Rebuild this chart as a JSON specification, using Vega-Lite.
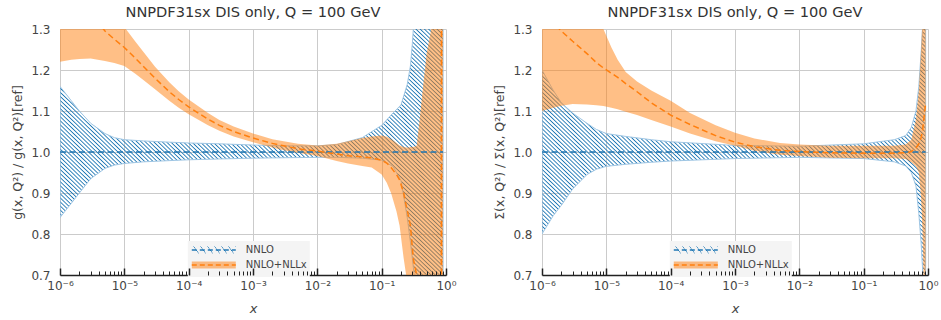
{
"$schema": "https://vega.github.io/schema/vega-lite/v6.json",
"background": "white",
"padding": {"left": 11, "top": 5, "right": 0, "bottom": 0},
"params": [
{"name": "hatchSmall", "value": {"gradient":"linear","x1":0,"y1":0,"x2":1,"y2":-0.159,"stops":[{"offset":0.025,"color":"#1f77b400"},{"offset":0.04,"color":"#1f77b4"},{"offset":0.055,"color":"#1f77b400"},{"offset":0.18,"color":"#1f77b400"},{"offset":0.195,"color":"#1f77b4"},{"offset":0.21,"color":"#1f77b400"},{"offset":0.335,"color":"#1f77b400"},{"offset":0.35,"color":"#1f77b4"},{"offset":0.365,"color":"#1f77b400"},{"offset":0.49,"color":"#1f77b400"},{"offset":0.505,"color":"#1f77b4"},{"offset":0.52,"color":"#1f77b400"},{"offset":0.645,"color":"#1f77b400"},{"offset":0.66,"color":"#1f77b4"},{"offset":0.675,"color":"#1f77b400"},{"offset":0.8,"color":"#1f77b400"},{"offset":0.815,"color":"#1f77b4"},{"offset":0.83,"color":"#1f77b400"},{"offset":0.955,"color":"#1f77b400"},{"offset":0.97,"color":"#1f77b4"},{"offset":0.985,"color":"#1f77b400"}]}},
{"name": "hatch", "value": {"gradient":"linear","x1":0,"y1":1.1,"x2":1.1,"y2":0,"stops":[
{"offset":0.17,"color":"#1f77b400"},{"offset":0.1715,"color":"#1f77b4"},{"offset":0.173,"color":"#1f77b400"},
{"offset":0.175,"color":"#1f77b400"},{"offset":0.1765,"color":"#1f77b4"},{"offset":0.178,"color":"#1f77b400"},
{"offset":0.18,"color":"#1f77b400"},{"offset":0.1815,"color":"#1f77b4"},{"offset":0.183,"color":"#1f77b400"},
{"offset":0.185,"color":"#1f77b400"},{"offset":0.1865,"color":"#1f77b4"},{"offset":0.188,"color":"#1f77b400"},
{"offset":0.19,"color":"#1f77b400"},{"offset":0.1915,"color":"#1f77b4"},{"offset":0.193,"color":"#1f77b400"},
{"offset":0.195,"color":"#1f77b400"},{"offset":0.1965,"color":"#1f77b4"},{"offset":0.198,"color":"#1f77b400"},
{"offset":0.2,"color":"#1f77b400"},{"offset":0.2015,"color":"#1f77b4"},{"offset":0.203,"color":"#1f77b400"},
{"offset":0.205,"color":"#1f77b400"},{"offset":0.2065,"color":"#1f77b4"},{"offset":0.208,"color":"#1f77b400"},
{"offset":0.21,"color":"#1f77b400"},{"offset":0.2115,"color":"#1f77b4"},{"offset":0.213,"color":"#1f77b400"},
{"offset":0.215,"color":"#1f77b400"},{"offset":0.2165,"color":"#1f77b4"},{"offset":0.218,"color":"#1f77b400"},
{"offset":0.22,"color":"#1f77b400"},{"offset":0.2215,"color":"#1f77b4"},{"offset":0.223,"color":"#1f77b400"},
{"offset":0.225,"color":"#1f77b400"},{"offset":0.2265,"color":"#1f77b4"},{"offset":0.228,"color":"#1f77b400"},
{"offset":0.23,"color":"#1f77b400"},{"offset":0.2315,"color":"#1f77b4"},{"offset":0.233,"color":"#1f77b400"},
{"offset":0.235,"color":"#1f77b400"},{"offset":0.2365,"color":"#1f77b4"},{"offset":0.238,"color":"#1f77b400"},
{"offset":0.24,"color":"#1f77b400"},{"offset":0.2415,"color":"#1f77b4"},{"offset":0.243,"color":"#1f77b400"},
{"offset":0.245,"color":"#1f77b400"},{"offset":0.2465,"color":"#1f77b4"},{"offset":0.248,"color":"#1f77b400"},
{"offset":0.25,"color":"#1f77b400"},{"offset":0.2515,"color":"#1f77b4"},{"offset":0.253,"color":"#1f77b400"},
{"offset":0.255,"color":"#1f77b400"},{"offset":0.2565,"color":"#1f77b4"},{"offset":0.258,"color":"#1f77b400"},
{"offset":0.26,"color":"#1f77b400"},{"offset":0.2615,"color":"#1f77b4"},{"offset":0.263,"color":"#1f77b400"},
{"offset":0.265,"color":"#1f77b400"},{"offset":0.2665,"color":"#1f77b4"},{"offset":0.268,"color":"#1f77b400"},
{"offset":0.27,"color":"#1f77b400"},{"offset":0.2715,"color":"#1f77b4"},{"offset":0.273,"color":"#1f77b400"},
{"offset":0.275,"color":"#1f77b400"},{"offset":0.2765,"color":"#1f77b4"},{"offset":0.278,"color":"#1f77b400"},
{"offset":0.28,"color":"#1f77b400"},{"offset":0.2815,"color":"#1f77b4"},{"offset":0.283,"color":"#1f77b400"},
{"offset":0.285,"color":"#1f77b400"},{"offset":0.2865,"color":"#1f77b4"},{"offset":0.288,"color":"#1f77b400"},
{"offset":0.29,"color":"#1f77b400"},{"offset":0.2915,"color":"#1f77b4"},{"offset":0.293,"color":"#1f77b400"},
{"offset":0.295,"color":"#1f77b400"},{"offset":0.2965,"color":"#1f77b4"},{"offset":0.298,"color":"#1f77b400"},
{"offset":0.3,"color":"#1f77b400"},{"offset":0.3015,"color":"#1f77b4"},{"offset":0.303,"color":"#1f77b400"},
{"offset":0.305,"color":"#1f77b400"},{"offset":0.3065,"color":"#1f77b4"},{"offset":0.308,"color":"#1f77b400"},
{"offset":0.31,"color":"#1f77b400"},{"offset":0.3115,"color":"#1f77b4"},{"offset":0.313,"color":"#1f77b400"},
{"offset":0.315,"color":"#1f77b400"},{"offset":0.3165,"color":"#1f77b4"},{"offset":0.318,"color":"#1f77b400"},
{"offset":0.32,"color":"#1f77b400"},{"offset":0.3215,"color":"#1f77b4"},{"offset":0.323,"color":"#1f77b400"},
{"offset":0.325,"color":"#1f77b400"},{"offset":0.3265,"color":"#1f77b4"},{"offset":0.328,"color":"#1f77b400"},
{"offset":0.33,"color":"#1f77b400"},{"offset":0.3315,"color":"#1f77b4"},{"offset":0.333,"color":"#1f77b400"},
{"offset":0.335,"color":"#1f77b400"},{"offset":0.3365,"color":"#1f77b4"},{"offset":0.338,"color":"#1f77b400"},
{"offset":0.34,"color":"#1f77b400"},{"offset":0.3415,"color":"#1f77b4"},{"offset":0.343,"color":"#1f77b400"},
{"offset":0.345,"color":"#1f77b400"},{"offset":0.3465,"color":"#1f77b4"},{"offset":0.348,"color":"#1f77b400"},
{"offset":0.35,"color":"#1f77b400"},{"offset":0.3515,"color":"#1f77b4"},{"offset":0.353,"color":"#1f77b400"},
{"offset":0.355,"color":"#1f77b400"},{"offset":0.3565,"color":"#1f77b4"},{"offset":0.358,"color":"#1f77b400"},
{"offset":0.36,"color":"#1f77b400"},{"offset":0.3615,"color":"#1f77b4"},{"offset":0.363,"color":"#1f77b400"},
{"offset":0.365,"color":"#1f77b400"},{"offset":0.3665,"color":"#1f77b4"},{"offset":0.368,"color":"#1f77b400"},
{"offset":0.37,"color":"#1f77b400"},{"offset":0.3715,"color":"#1f77b4"},{"offset":0.373,"color":"#1f77b400"},
{"offset":0.375,"color":"#1f77b400"},{"offset":0.3765,"color":"#1f77b4"},{"offset":0.378,"color":"#1f77b400"},
{"offset":0.38,"color":"#1f77b400"},{"offset":0.3815,"color":"#1f77b4"},{"offset":0.383,"color":"#1f77b400"},
{"offset":0.385,"color":"#1f77b400"},{"offset":0.3865,"color":"#1f77b4"},{"offset":0.388,"color":"#1f77b400"},
{"offset":0.39,"color":"#1f77b400"},{"offset":0.3915,"color":"#1f77b4"},{"offset":0.393,"color":"#1f77b400"},
{"offset":0.395,"color":"#1f77b400"},{"offset":0.3965,"color":"#1f77b4"},{"offset":0.398,"color":"#1f77b400"},
{"offset":0.4,"color":"#1f77b400"},{"offset":0.4015,"color":"#1f77b4"},{"offset":0.403,"color":"#1f77b400"},
{"offset":0.405,"color":"#1f77b400"},{"offset":0.4065,"color":"#1f77b4"},{"offset":0.408,"color":"#1f77b400"},
{"offset":0.41,"color":"#1f77b400"},{"offset":0.4115,"color":"#1f77b4"},{"offset":0.413,"color":"#1f77b400"},
{"offset":0.415,"color":"#1f77b400"},{"offset":0.4165,"color":"#1f77b4"},{"offset":0.418,"color":"#1f77b400"},
{"offset":0.42,"color":"#1f77b400"},{"offset":0.4215,"color":"#1f77b4"},{"offset":0.423,"color":"#1f77b400"},
{"offset":0.425,"color":"#1f77b400"},{"offset":0.4265,"color":"#1f77b4"},{"offset":0.428,"color":"#1f77b400"},
{"offset":0.43,"color":"#1f77b400"},{"offset":0.4315,"color":"#1f77b4"},{"offset":0.433,"color":"#1f77b400"},
{"offset":0.435,"color":"#1f77b400"},{"offset":0.4365,"color":"#1f77b4"},{"offset":0.438,"color":"#1f77b400"},
{"offset":0.44,"color":"#1f77b400"},{"offset":0.4415,"color":"#1f77b4"},{"offset":0.443,"color":"#1f77b400"},
{"offset":0.445,"color":"#1f77b400"},{"offset":0.4465,"color":"#1f77b4"},{"offset":0.448,"color":"#1f77b400"},
{"offset":0.45,"color":"#1f77b400"},{"offset":0.4515,"color":"#1f77b4"},{"offset":0.453,"color":"#1f77b400"},
{"offset":0.455,"color":"#1f77b400"},{"offset":0.4565,"color":"#1f77b4"},{"offset":0.458,"color":"#1f77b400"},
{"offset":0.46,"color":"#1f77b400"},{"offset":0.4615,"color":"#1f77b4"},{"offset":0.463,"color":"#1f77b400"},
{"offset":0.465,"color":"#1f77b400"},{"offset":0.4665,"color":"#1f77b4"},{"offset":0.468,"color":"#1f77b400"},
{"offset":0.47,"color":"#1f77b400"},{"offset":0.4715,"color":"#1f77b4"},{"offset":0.473,"color":"#1f77b400"},
{"offset":0.475,"color":"#1f77b400"},{"offset":0.4765,"color":"#1f77b4"},{"offset":0.478,"color":"#1f77b400"},
{"offset":0.48,"color":"#1f77b400"},{"offset":0.4815,"color":"#1f77b4"},{"offset":0.483,"color":"#1f77b400"},
{"offset":0.485,"color":"#1f77b400"},{"offset":0.4865,"color":"#1f77b4"},{"offset":0.488,"color":"#1f77b400"},
{"offset":0.49,"color":"#1f77b400"},{"offset":0.4915,"color":"#1f77b4"},{"offset":0.493,"color":"#1f77b400"},
{"offset":0.495,"color":"#1f77b400"},{"offset":0.4965,"color":"#1f77b4"},{"offset":0.498,"color":"#1f77b400"},
{"offset":0.5,"color":"#1f77b400"},{"offset":0.5015,"color":"#1f77b4"},{"offset":0.503,"color":"#1f77b400"},
{"offset":0.505,"color":"#1f77b400"},{"offset":0.5065,"color":"#1f77b4"},{"offset":0.508,"color":"#1f77b400"},
{"offset":0.51,"color":"#1f77b400"},{"offset":0.5115,"color":"#1f77b4"},{"offset":0.513,"color":"#1f77b400"},
{"offset":0.515,"color":"#1f77b400"},{"offset":0.5165,"color":"#1f77b4"},{"offset":0.518,"color":"#1f77b400"},
{"offset":0.52,"color":"#1f77b400"},{"offset":0.5215,"color":"#1f77b4"},{"offset":0.523,"color":"#1f77b400"},
{"offset":0.525,"color":"#1f77b400"},{"offset":0.5265,"color":"#1f77b4"},{"offset":0.528,"color":"#1f77b400"},
{"offset":0.53,"color":"#1f77b400"},{"offset":0.5315,"color":"#1f77b4"},{"offset":0.533,"color":"#1f77b400"},
{"offset":0.535,"color":"#1f77b400"},{"offset":0.5365,"color":"#1f77b4"},{"offset":0.538,"color":"#1f77b400"},
{"offset":0.54,"color":"#1f77b400"},{"offset":0.5415,"color":"#1f77b4"},{"offset":0.543,"color":"#1f77b400"},
{"offset":0.545,"color":"#1f77b400"},{"offset":0.5465,"color":"#1f77b4"},{"offset":0.548,"color":"#1f77b400"},
{"offset":0.55,"color":"#1f77b400"},{"offset":0.5515,"color":"#1f77b4"},{"offset":0.553,"color":"#1f77b400"},
{"offset":0.555,"color":"#1f77b400"},{"offset":0.5565,"color":"#1f77b4"},{"offset":0.558,"color":"#1f77b400"},
{"offset":0.56,"color":"#1f77b400"},{"offset":0.5615,"color":"#1f77b4"},{"offset":0.563,"color":"#1f77b400"},
{"offset":0.565,"color":"#1f77b400"},{"offset":0.5665,"color":"#1f77b4"},{"offset":0.568,"color":"#1f77b400"},
{"offset":0.57,"color":"#1f77b400"},{"offset":0.5715,"color":"#1f77b4"},{"offset":0.573,"color":"#1f77b400"},
{"offset":0.575,"color":"#1f77b400"},{"offset":0.5765,"color":"#1f77b4"},{"offset":0.578,"color":"#1f77b400"},
{"offset":0.58,"color":"#1f77b400"},{"offset":0.5815,"color":"#1f77b4"},{"offset":0.583,"color":"#1f77b400"},
{"offset":0.585,"color":"#1f77b400"},{"offset":0.5865,"color":"#1f77b4"},{"offset":0.588,"color":"#1f77b400"},
{"offset":0.59,"color":"#1f77b400"},{"offset":0.5915,"color":"#1f77b4"},{"offset":0.593,"color":"#1f77b400"},
{"offset":0.595,"color":"#1f77b400"},{"offset":0.5965,"color":"#1f77b4"},{"offset":0.598,"color":"#1f77b400"},
{"offset":0.6,"color":"#1f77b400"},{"offset":0.6015,"color":"#1f77b4"},{"offset":0.603,"color":"#1f77b400"},
{"offset":0.605,"color":"#1f77b400"},{"offset":0.6065,"color":"#1f77b4"},{"offset":0.608,"color":"#1f77b400"},
{"offset":0.61,"color":"#1f77b400"},{"offset":0.6115,"color":"#1f77b4"},{"offset":0.613,"color":"#1f77b400"},
{"offset":0.615,"color":"#1f77b400"},{"offset":0.6165,"color":"#1f77b4"},{"offset":0.618,"color":"#1f77b400"},
{"offset":0.62,"color":"#1f77b400"},{"offset":0.6215,"color":"#1f77b4"},{"offset":0.623,"color":"#1f77b400"},
{"offset":0.625,"color":"#1f77b400"},{"offset":0.6265,"color":"#1f77b4"},{"offset":0.628,"color":"#1f77b400"},
{"offset":0.63,"color":"#1f77b400"},{"offset":0.6315,"color":"#1f77b4"},{"offset":0.633,"color":"#1f77b400"},
{"offset":0.635,"color":"#1f77b400"},{"offset":0.6365,"color":"#1f77b4"},{"offset":0.638,"color":"#1f77b400"},
{"offset":0.64,"color":"#1f77b400"},{"offset":0.6415,"color":"#1f77b4"},{"offset":0.643,"color":"#1f77b400"},
{"offset":0.645,"color":"#1f77b400"},{"offset":0.6465,"color":"#1f77b4"},{"offset":0.648,"color":"#1f77b400"},
{"offset":0.65,"color":"#1f77b400"},{"offset":0.6515,"color":"#1f77b4"},{"offset":0.653,"color":"#1f77b400"},
{"offset":0.655,"color":"#1f77b400"},{"offset":0.6565,"color":"#1f77b4"},{"offset":0.658,"color":"#1f77b400"},
{"offset":0.66,"color":"#1f77b400"},{"offset":0.6615,"color":"#1f77b4"},{"offset":0.663,"color":"#1f77b400"},
{"offset":0.665,"color":"#1f77b400"},{"offset":0.6665,"color":"#1f77b4"},{"offset":0.668,"color":"#1f77b400"},
{"offset":0.67,"color":"#1f77b400"},{"offset":0.6715,"color":"#1f77b4"},{"offset":0.673,"color":"#1f77b400"},
{"offset":0.675,"color":"#1f77b400"},{"offset":0.6765,"color":"#1f77b4"},{"offset":0.678,"color":"#1f77b400"},
{"offset":0.68,"color":"#1f77b400"},{"offset":0.6815,"color":"#1f77b4"},{"offset":0.683,"color":"#1f77b400"},
{"offset":0.685,"color":"#1f77b400"},{"offset":0.6865,"color":"#1f77b4"},{"offset":0.688,"color":"#1f77b400"},
{"offset":0.69,"color":"#1f77b400"},{"offset":0.6915,"color":"#1f77b4"},{"offset":0.693,"color":"#1f77b400"},
{"offset":0.695,"color":"#1f77b400"},{"offset":0.6965,"color":"#1f77b4"},{"offset":0.698,"color":"#1f77b400"},
{"offset":0.7,"color":"#1f77b400"},{"offset":0.7015,"color":"#1f77b4"},{"offset":0.703,"color":"#1f77b400"},
{"offset":0.705,"color":"#1f77b400"},{"offset":0.7065,"color":"#1f77b4"},{"offset":0.708,"color":"#1f77b400"},
{"offset":0.71,"color":"#1f77b400"},{"offset":0.7115,"color":"#1f77b4"},{"offset":0.713,"color":"#1f77b400"},
{"offset":0.715,"color":"#1f77b400"},{"offset":0.7165,"color":"#1f77b4"},{"offset":0.718,"color":"#1f77b400"},
{"offset":0.72,"color":"#1f77b400"},{"offset":0.7215,"color":"#1f77b4"},{"offset":0.723,"color":"#1f77b400"},
{"offset":0.725,"color":"#1f77b400"},{"offset":0.7265,"color":"#1f77b4"},{"offset":0.728,"color":"#1f77b400"},
{"offset":0.73,"color":"#1f77b400"},{"offset":0.7315,"color":"#1f77b4"},{"offset":0.733,"color":"#1f77b400"},
{"offset":0.735,"color":"#1f77b400"},{"offset":0.7365,"color":"#1f77b4"},{"offset":0.738,"color":"#1f77b400"},
{"offset":0.74,"color":"#1f77b400"},{"offset":0.7415,"color":"#1f77b4"},{"offset":0.743,"color":"#1f77b400"},
{"offset":0.745,"color":"#1f77b400"},{"offset":0.7465,"color":"#1f77b4"},{"offset":0.748,"color":"#1f77b400"},
{"offset":0.75,"color":"#1f77b400"},{"offset":0.7515,"color":"#1f77b4"},{"offset":0.753,"color":"#1f77b400"},
{"offset":0.755,"color":"#1f77b400"},{"offset":0.7565,"color":"#1f77b4"},{"offset":0.758,"color":"#1f77b400"},
{"offset":0.76,"color":"#1f77b400"},{"offset":0.7615,"color":"#1f77b4"},{"offset":0.763,"color":"#1f77b400"},
{"offset":0.765,"color":"#1f77b400"},{"offset":0.7665,"color":"#1f77b4"},{"offset":0.768,"color":"#1f77b400"},
{"offset":0.77,"color":"#1f77b400"},{"offset":0.7715,"color":"#1f77b4"},{"offset":0.773,"color":"#1f77b400"},
{"offset":0.775,"color":"#1f77b400"},{"offset":0.7765,"color":"#1f77b4"},{"offset":0.778,"color":"#1f77b400"},
{"offset":0.78,"color":"#1f77b400"},{"offset":0.7815,"color":"#1f77b4"},{"offset":0.783,"color":"#1f77b400"},
{"offset":0.785,"color":"#1f77b400"},{"offset":0.7865,"color":"#1f77b4"},{"offset":0.788,"color":"#1f77b400"},
{"offset":0.79,"color":"#1f77b400"},{"offset":0.7915,"color":"#1f77b4"},{"offset":0.793,"color":"#1f77b400"},
{"offset":0.795,"color":"#1f77b400"},{"offset":0.7965,"color":"#1f77b4"},{"offset":0.798,"color":"#1f77b400"},
{"offset":0.8,"color":"#1f77b400"},{"offset":0.8015,"color":"#1f77b4"},{"offset":0.803,"color":"#1f77b400"},
{"offset":0.805,"color":"#1f77b400"},{"offset":0.8065,"color":"#1f77b4"},{"offset":0.808,"color":"#1f77b400"},
{"offset":0.81,"color":"#1f77b400"},{"offset":0.8115,"color":"#1f77b4"},{"offset":0.813,"color":"#1f77b400"},
{"offset":0.815,"color":"#1f77b400"},{"offset":0.8165,"color":"#1f77b4"},{"offset":0.818,"color":"#1f77b400"},
{"offset":0.82,"color":"#1f77b400"},{"offset":0.8215,"color":"#1f77b4"},{"offset":0.823,"color":"#1f77b400"},
{"offset":0.825,"color":"#1f77b400"},{"offset":0.8265,"color":"#1f77b4"},{"offset":0.828,"color":"#1f77b400"},
{"offset":0.83,"color":"#1f77b400"},{"offset":0.8315,"color":"#1f77b4"},{"offset":0.833,"color":"#1f77b400"},
{"offset":0.835,"color":"#1f77b400"},{"offset":0.8365,"color":"#1f77b4"},{"offset":0.838,"color":"#1f77b400"},
{"offset":0.84,"color":"#1f77b400"},{"offset":0.8415,"color":"#1f77b4"},{"offset":0.843,"color":"#1f77b400"},
{"offset":0.845,"color":"#1f77b400"},{"offset":0.8465,"color":"#1f77b4"},{"offset":0.848,"color":"#1f77b400"},
{"offset":0.85,"color":"#1f77b400"},{"offset":0.8515,"color":"#1f77b4"},{"offset":0.853,"color":"#1f77b400"},
{"offset":0.855,"color":"#1f77b400"},{"offset":0.8565,"color":"#1f77b4"},{"offset":0.858,"color":"#1f77b400"},
{"offset":0.86,"color":"#1f77b400"},{"offset":0.8615,"color":"#1f77b4"},{"offset":0.863,"color":"#1f77b400"},
{"offset":0.865,"color":"#1f77b400"},{"offset":0.8665,"color":"#1f77b4"},{"offset":0.868,"color":"#1f77b400"},
{"offset":0.87,"color":"#1f77b400"},{"offset":0.8715,"color":"#1f77b4"},{"offset":0.873,"color":"#1f77b400"},
{"offset":0.875,"color":"#1f77b400"},{"offset":0.8765,"color":"#1f77b4"},{"offset":0.878,"color":"#1f77b400"},
{"offset":0.88,"color":"#1f77b400"},{"offset":0.8815,"color":"#1f77b4"},{"offset":0.883,"color":"#1f77b400"},
{"offset":0.885,"color":"#1f77b400"},{"offset":0.8865,"color":"#1f77b4"},{"offset":0.888,"color":"#1f77b400"},
{"offset":0.89,"color":"#1f77b400"},{"offset":0.8915,"color":"#1f77b4"},{"offset":0.893,"color":"#1f77b400"},
{"offset":0.895,"color":"#1f77b400"},{"offset":0.8965,"color":"#1f77b4"},{"offset":0.898,"color":"#1f77b400"},
{"offset":0.9,"color":"#1f77b400"},{"offset":0.9015,"color":"#1f77b4"},{"offset":0.903,"color":"#1f77b400"},
{"offset":0.905,"color":"#1f77b400"},{"offset":0.9065,"color":"#1f77b4"},{"offset":0.908,"color":"#1f77b400"},
{"offset":0.91,"color":"#1f77b400"},{"offset":0.9115,"color":"#1f77b4"},{"offset":0.913,"color":"#1f77b400"},
{"offset":0.915,"color":"#1f77b400"},{"offset":0.9165,"color":"#1f77b4"},{"offset":0.918,"color":"#1f77b400"},
{"offset":0.92,"color":"#1f77b400"},{"offset":0.9215,"color":"#1f77b4"},{"offset":0.923,"color":"#1f77b400"},
{"offset":0.925,"color":"#1f77b400"},{"offset":0.9265,"color":"#1f77b4"},{"offset":0.928,"color":"#1f77b400"},
{"offset":0.93,"color":"#1f77b400"},{"offset":0.9315,"color":"#1f77b4"},{"offset":0.933,"color":"#1f77b400"},
{"offset":0.935,"color":"#1f77b400"},{"offset":0.9365,"color":"#1f77b4"},{"offset":0.938,"color":"#1f77b400"},
{"offset":0.94,"color":"#1f77b400"},{"offset":0.9415,"color":"#1f77b4"},{"offset":0.943,"color":"#1f77b400"},
{"offset":0.945,"color":"#1f77b400"},{"offset":0.9465,"color":"#1f77b4"},{"offset":0.948,"color":"#1f77b400"},
{"offset":0.95,"color":"#1f77b400"},{"offset":0.9515,"color":"#1f77b4"},{"offset":0.953,"color":"#1f77b400"},
{"offset":0.955,"color":"#1f77b400"},{"offset":0.9565,"color":"#1f77b4"},{"offset":0.958,"color":"#1f77b400"}
]}}],
"datasets": {"d": [
{"p":"g","s":"NNLO","x":1e-6,"lo":0.84,"c":1,"hi":1.16},
{"p":"g","s":"NNLO","x":1.5e-6,"lo":0.875,"c":1,"hi":1.125},
{"p":"g","s":"NNLO","x":2e-6,"lo":0.9,"c":1,"hi":1.1},
{"p":"g","s":"NNLO","x":3e-6,"lo":0.935,"c":1,"hi":1.07},
{"p":"g","s":"NNLO","x":5e-6,"lo":0.96,"c":1,"hi":1.045},
{"p":"g","s":"NNLO","x":7e-6,"lo":0.968,"c":1,"hi":1.035},
{"p":"g","s":"NNLO","x":1e-5,"lo":0.972,"c":1,"hi":1.03},
{"p":"g","s":"NNLO","x":2e-5,"lo":0.976,"c":1,"hi":1.027},
{"p":"g","s":"NNLO","x":5e-5,"lo":0.979,"c":1,"hi":1.024},
{"p":"g","s":"NNLO","x":1e-4,"lo":0.981,"c":1,"hi":1.022},
{"p":"g","s":"NNLO","x":3e-4,"lo":0.983,"c":1,"hi":1.02},
{"p":"g","s":"NNLO","x":1e-3,"lo":0.985,"c":1,"hi":1.017},
{"p":"g","s":"NNLO","x":3e-3,"lo":0.986,"c":1,"hi":1.015},
{"p":"g","s":"NNLO","x":1e-2,"lo":0.987,"c":1,"hi":1.015},
{"p":"g","s":"NNLO","x":2e-2,"lo":0.987,"c":1,"hi":1.018},
{"p":"g","s":"NNLO","x":5e-2,"lo":0.985,"c":1,"hi":1.035},
{"p":"g","s":"NNLO","x":0.1,"lo":0.98,"c":1,"hi":1.065},
{"p":"g","s":"NNLO","x":0.15,"lo":0.965,"c":1,"hi":1.095},
{"p":"g","s":"NNLO","x":0.2,"lo":0.93,"c":1,"hi":1.115},
{"p":"g","s":"NNLO","x":0.25,"lo":0.84,"c":1,"hi":1.165},
{"p":"g","s":"NNLO","x":0.28,"lo":0.78,"c":1,"hi":1.21},
{"p":"g","s":"NNLO","x":0.3,"lo":0.74,"c":1,"hi":1.265},
{"p":"g","s":"NNLO","x":0.32,"lo":0.7,"c":1,"hi":1.33},
{"p":"g","s":"NNLO","x":0.35,"lo":0.62,"c":1,"hi":1.4},
{"p":"g","s":"NNLO","x":0.45,"lo":0.56,"c":1,"hi":1.45},
{"p":"g","s":"NNLO","x":0.9,"lo":0.55,"c":1,"hi":1.45},
{"p":"g","s":"NNLO+NLLx","x":1e-6,"lo":1.22,"c":1.43,"hi":1.6},
{"p":"g","s":"NNLO+NLLx","x":1.5e-6,"lo":1.225,"c":1.4,"hi":1.55},
{"p":"g","s":"NNLO+NLLx","x":2e-6,"lo":1.227,"c":1.38,"hi":1.52},
{"p":"g","s":"NNLO+NLLx","x":3e-6,"lo":1.228,"c":1.34,"hi":1.46},
{"p":"g","s":"NNLO+NLLx","x":5e-6,"lo":1.222,"c":1.295,"hi":1.39},
{"p":"g","s":"NNLO+NLLx","x":7e-6,"lo":1.217,"c":1.275,"hi":1.345},
{"p":"g","s":"NNLO+NLLx","x":1e-5,"lo":1.21,"c":1.255,"hi":1.305},
{"p":"g","s":"NNLO+NLLx","x":1.5e-5,"lo":1.19,"c":1.228,"hi":1.268},
{"p":"g","s":"NNLO+NLLx","x":2e-5,"lo":1.175,"c":1.208,"hi":1.243},
{"p":"g","s":"NNLO+NLLx","x":3e-5,"lo":1.153,"c":1.18,"hi":1.208},
{"p":"g","s":"NNLO+NLLx","x":5e-5,"lo":1.125,"c":1.147,"hi":1.17},
{"p":"g","s":"NNLO+NLLx","x":7e-5,"lo":1.108,"c":1.128,"hi":1.148},
{"p":"g","s":"NNLO+NLLx","x":1e-4,"lo":1.092,"c":1.11,"hi":1.128},
{"p":"g","s":"NNLO+NLLx","x":2e-4,"lo":1.065,"c":1.08,"hi":1.095},
{"p":"g","s":"NNLO+NLLx","x":3e-4,"lo":1.052,"c":1.065,"hi":1.078},
{"p":"g","s":"NNLO+NLLx","x":5e-4,"lo":1.038,"c":1.05,"hi":1.062},
{"p":"g","s":"NNLO+NLLx","x":1e-3,"lo":1.024,"c":1.034,"hi":1.045},
{"p":"g","s":"NNLO+NLLx","x":2e-3,"lo":1.011,"c":1.021,"hi":1.031},
{"p":"g","s":"NNLO+NLLx","x":3e-3,"lo":1.004,"c":1.015,"hi":1.026},
{"p":"g","s":"NNLO+NLLx","x":5e-3,"lo":0.998,"c":1.008,"hi":1.02},
{"p":"g","s":"NNLO+NLLx","x":1e-2,"lo":0.99,"c":1.002,"hi":1.016},
{"p":"g","s":"NNLO+NLLx","x":2e-2,"lo":0.978,"c":0.995,"hi":1.02},
{"p":"g","s":"NNLO+NLLx","x":3e-2,"lo":0.972,"c":0.991,"hi":1.026},
{"p":"g","s":"NNLO+NLLx","x":5e-2,"lo":0.966,"c":0.988,"hi":1.034},
{"p":"g","s":"NNLO+NLLx","x":7e-2,"lo":0.962,"c":0.986,"hi":1.038},
{"p":"g","s":"NNLO+NLLx","x":0.1,"lo":0.945,"c":0.98,"hi":1.04},
{"p":"g","s":"NNLO+NLLx","x":0.12,"lo":0.925,"c":0.973,"hi":1.037},
{"p":"g","s":"NNLO+NLLx","x":0.14,"lo":0.9,"c":0.962,"hi":1.032},
{"p":"g","s":"NNLO+NLLx","x":0.17,"lo":0.855,"c":0.945,"hi":1.022},
{"p":"g","s":"NNLO+NLLx","x":0.19,"lo":0.82,"c":0.932,"hi":1.016},
{"p":"g","s":"NNLO+NLLx","x":0.22,"lo":0.74,"c":0.9,"hi":1.012},
{"p":"g","s":"NNLO+NLLx","x":0.24,"lo":0.7,"c":0.87,"hi":1.011},
{"p":"g","s":"NNLO+NLLx","x":0.26,"lo":0.66,"c":0.845,"hi":1.011},
{"p":"g","s":"NNLO+NLLx","x":0.28,"lo":0.63,"c":0.82,"hi":1.012},
{"p":"g","s":"NNLO+NLLx","x":0.31,"lo":0.6,"c":0.74,"hi":1.012},
{"p":"g","s":"NNLO+NLLx","x":0.35,"lo":0.58,"c":0.7,"hi":1.015},
{"p":"g","s":"NNLO+NLLx","x":0.39,"lo":0.56,"c":0.64,"hi":1.08},
{"p":"g","s":"NNLO+NLLx","x":0.44,"lo":0.55,"c":0.6,"hi":1.16},
{"p":"g","s":"NNLO+NLLx","x":0.5,"lo":0.55,"c":0.57,"hi":1.24},
{"p":"g","s":"NNLO+NLLx","x":0.59,"lo":0.55,"c":0.56,"hi":1.3},
{"p":"g","s":"NNLO+NLLx","x":0.65,"lo":0.55,"c":0.55,"hi":1.4},
{"p":"g","s":"NNLO+NLLx","x":0.845,"lo":0.55,"c":0.55,"hi":1.45},
{"p":"g","s":"NNLO+NLLx","x":0.85,"lo":0.55,"c":1.5,"hi":1.45},
{"p":"g","s":"NNLO+NLLx","x":0.9,"lo":0.55,"c":1.5,"hi":1.45},
{"p":"S","s":"NNLO","x":1e-6,"lo":0.8,"c":1,"hi":1.2},
{"p":"S","s":"NNLO","x":1.5e-6,"lo":0.845,"c":1,"hi":1.15},
{"p":"S","s":"NNLO","x":2e-6,"lo":0.87,"c":1,"hi":1.12},
{"p":"S","s":"NNLO","x":3e-6,"lo":0.91,"c":1,"hi":1.095},
{"p":"S","s":"NNLO","x":5e-6,"lo":0.945,"c":1,"hi":1.07},
{"p":"S","s":"NNLO","x":7e-6,"lo":0.958,"c":1,"hi":1.055},
{"p":"S","s":"NNLO","x":1e-5,"lo":0.965,"c":1,"hi":1.045},
{"p":"S","s":"NNLO","x":2e-5,"lo":0.97,"c":1,"hi":1.038},
{"p":"S","s":"NNLO","x":5e-5,"lo":0.975,"c":1,"hi":1.03},
{"p":"S","s":"NNLO","x":1e-4,"lo":0.978,"c":1,"hi":1.025},
{"p":"S","s":"NNLO","x":1e-3,"lo":0.984,"c":1,"hi":1.016},
{"p":"S","s":"NNLO","x":1e-2,"lo":0.987,"c":1,"hi":1.014},
{"p":"S","s":"NNLO","x":0.1,"lo":0.984,"c":1,"hi":1.02},
{"p":"S","s":"NNLO","x":0.3,"lo":0.976,"c":1,"hi":1.03},
{"p":"S","s":"NNLO","x":0.45,"lo":0.966,"c":1,"hi":1.04},
{"p":"S","s":"NNLO","x":0.55,"lo":0.95,"c":1,"hi":1.06},
{"p":"S","s":"NNLO","x":0.65,"lo":0.917,"c":1,"hi":1.1},
{"p":"S","s":"NNLO","x":0.72,"lo":0.85,"c":1,"hi":1.16},
{"p":"S","s":"NNLO","x":0.78,"lo":0.78,"c":1,"hi":1.24},
{"p":"S","s":"NNLO","x":0.82,"lo":0.72,"c":1,"hi":1.3},
{"p":"S","s":"NNLO","x":0.86,"lo":0.6,"c":1,"hi":1.4},
{"p":"S","s":"NNLO","x":0.92,"lo":0.55,"c":1,"hi":1.45},
{"p":"S","s":"NNLO+NLLx","x":1e-6,"lo":1.1,"c":1.34,"hi":1.45},
{"p":"S","s":"NNLO+NLLx","x":1.5e-6,"lo":1.108,"c":1.315,"hi":1.43},
{"p":"S","s":"NNLO+NLLx","x":2e-6,"lo":1.113,"c":1.295,"hi":1.41},
{"p":"S","s":"NNLO+NLLx","x":3e-6,"lo":1.117,"c":1.27,"hi":1.38},
{"p":"S","s":"NNLO+NLLx","x":5e-6,"lo":1.116,"c":1.24,"hi":1.35},
{"p":"S","s":"NNLO+NLLx","x":7e-6,"lo":1.114,"c":1.218,"hi":1.32},
{"p":"S","s":"NNLO+NLLx","x":9e-6,"lo":1.112,"c":1.205,"hi":1.3},
{"p":"S","s":"NNLO+NLLx","x":1.2e-5,"lo":1.108,"c":1.192,"hi":1.255},
{"p":"S","s":"NNLO+NLLx","x":1.5e-5,"lo":1.104,"c":1.182,"hi":1.225},
{"p":"S","s":"NNLO+NLLx","x":2e-5,"lo":1.098,"c":1.167,"hi":1.195},
{"p":"S","s":"NNLO+NLLx","x":3e-5,"lo":1.09,"c":1.147,"hi":1.172},
{"p":"S","s":"NNLO+NLLx","x":5e-5,"lo":1.078,"c":1.12,"hi":1.15},
{"p":"S","s":"NNLO+NLLx","x":1e-4,"lo":1.062,"c":1.09,"hi":1.125},
{"p":"S","s":"NNLO+NLLx","x":2e-4,"lo":1.045,"c":1.067,"hi":1.095},
{"p":"S","s":"NNLO+NLLx","x":5e-4,"lo":1.026,"c":1.04,"hi":1.065},
{"p":"S","s":"NNLO+NLLx","x":1e-3,"lo":1.015,"c":1.024,"hi":1.047},
{"p":"S","s":"NNLO+NLLx","x":2e-3,"lo":1.003,"c":1.013,"hi":1.033},
{"p":"S","s":"NNLO+NLLx","x":5e-3,"lo":0.993,"c":1.004,"hi":1.022},
{"p":"S","s":"NNLO+NLLx","x":1e-2,"lo":0.99,"c":1.001,"hi":1.018},
{"p":"S","s":"NNLO+NLLx","x":3e-2,"lo":0.986,"c":0.998,"hi":1.015},
{"p":"S","s":"NNLO+NLLx","x":0.1,"lo":0.985,"c":0.997,"hi":1.015},
{"p":"S","s":"NNLO+NLLx","x":0.3,"lo":0.985,"c":0.997,"hi":1.015},
{"p":"S","s":"NNLO+NLLx","x":0.45,"lo":0.983,"c":0.998,"hi":1.018},
{"p":"S","s":"NNLO+NLLx","x":0.55,"lo":0.975,"c":1.001,"hi":1.03},
{"p":"S","s":"NNLO+NLLx","x":0.65,"lo":0.965,"c":1.01,"hi":1.08},
{"p":"S","s":"NNLO+NLLx","x":0.72,"lo":0.95,"c":1.02,"hi":1.15},
{"p":"S","s":"NNLO+NLLx","x":0.78,"lo":0.89,"c":1.035,"hi":1.25},
{"p":"S","s":"NNLO+NLLx","x":0.82,"lo":0.81,"c":1.05,"hi":1.32},
{"p":"S","s":"NNLO+NLLx","x":0.86,"lo":0.66,"c":1.08,"hi":1.4},
{"p":"S","s":"NNLO+NLLx","x":0.92,"lo":0.55,"c":1.12,"hi":1.45}
]},
"data": {"name": "d"},
"spacing": 96,
"bounds": "flush",
"hconcat": [
{
 "width": 386, "height": 246,
 "title": {"text": "NNPDF31sx DIS only, Q = 100 GeV", "frame": "group"},
 "transform": [{"filter": "datum.p === 'g'"}],
 "layer": [
  {
   "transform": [{"filter": "datum.s === 'NNLO'"}],
   "mark": {"type": "area", "fill": {"expr": "hatch"}, "stroke": "#9fc6e4", "strokeWidth": 1, "clip": true},
   "encoding": {
    "x": {"field": "x", "type": "quantitative", "scale": {"type": "log", "domain": [1e-6, 1], "nice": false},
          "axis": {"orient": "bottom", "title": "x", "titleFontStyle": "italic", "titleFontSize": 13, "titlePadding": 11, "values": [1e-6,1e-5,1e-4,1e-3,1e-2,1e-1,1], "labelExpr": "datum.value < 3e-6 ? '10⁻⁶' : datum.value < 3e-5 ? '10⁻⁵' : datum.value < 3e-4 ? '10⁻⁴' : datum.value < 3e-3 ? '10⁻³' : datum.value < 3e-2 ? '10⁻²' : datum.value < 0.3 ? '10⁻¹' : '10⁰'", "labelFontSize": 12, "labelPadding": 5, "labelFlush": false, "ticks": false, "domain": true, "domainColor": "#222", "domainWidth": 1.5, "grid": true}},
    "y": {"field": "lo", "type": "quantitative", "scale": {"domain": [0.7, 1.3], "nice": false, "zero": false},
          "axis": {"orient": "left", "title": "g(x, Q²) / g(x, Q²)[ref]", "values": [0.7,0.8,0.9,1.0,1.1,1.2,1.3], "format": ".1f", "ticks": false, "domain": false, "grid": true, "labelPadding": 10, "labelFontSize": 12, "titleFontSize": 12.5, "titlePadding": 6}},
    "y2": {"field": "hi"}
   }
  },
  {
   "transform": [{"filter": "datum.s === 'NNLO+NLLx'"}],
   "mark": {"type": "area", "clip": true},
   "encoding": {
    "x": {"field": "x", "type": "quantitative", "axis": {"orient": "bottom", "title": null, "values": [1e-6,1e-5,1e-4,1e-3,1e-2,1e-1,1], "labels": false, "grid": false, "domain": false, "ticks": true, "tickSize": -7, "tickColor": "#222", "tickWidth": 1.5, "zindex": 1}},
    "y": {"field": "lo", "type": "quantitative", "axis": {"orient": "left", "title": "g(x, Q²) / g(x, Q²)[ref]", "values": [0.7,0.8,0.9,1.0,1.1,1.2,1.3], "format": ".1f", "ticks": false, "domain": false, "grid": true, "labelPadding": 10, "labelFontSize": 12, "titleFontSize": 12.5, "titlePadding": 6}},
    "y2": {"field": "hi"},
    "fill": {"field": "s", "type": "nominal", "scale": {"domain": ["NNLO", "NNLO+NLLx"], "range": [{"expr": "hatchSmall"}, "#ff7f0e"]},
      "legend": {"title": null, "orient": "none", "legendX": 127.8, "legendY": 212, "symbolType": "M-1,-1.2M-1,-0.7H7.8V0.7H-1ZM-1,1.2", "symbolSize": 100, "symbolStrokeWidth": 1.5, "symbolStrokeColor": "transparent", "labelOffset": 43, "padding": 3, "rowPadding": -3.5, "fillColor": "#f4f4f4", "labelFontSize": 10, "labelColor": "#444", "zindex": 0}},
    "opacity": {"field": "s", "type": "ordinal", "scale": {"domain": ["NNLO", "NNLO+NLLx"], "range": [1, 0.5]},
      "legend": {"title": null, "orient": "none", "legendX": 127.8, "legendY": 212, "symbolType": "M-1,-1.2M-1,-0.7H7.8V0.7H-1ZM-1,1.2", "symbolSize": 100, "symbolStrokeWidth": 1.5, "symbolStrokeColor": "transparent", "labelOffset": 43, "padding": 3, "rowPadding": -3.5, "fillColor": "#f4f4f4", "labelFontSize": 10, "labelColor": "#444", "zindex": 0}}
   }
  },
  {
   "mark": {"type": "line", "strokeDash": [6, 3.5], "strokeWidth": 1.5, "clip": true},
   "encoding": {
    "x": {"field": "x", "type": "quantitative", "axis": {"orient": "bottom", "title": null, "values": [2e-6,3e-6,4e-6,5e-6,6e-6,7e-6,8e-6,9e-6,2e-5,3e-5,4e-5,5e-5,6e-5,7e-5,8e-5,9e-5,2e-4,3e-4,4e-4,5e-4,6e-4,7e-4,8e-4,9e-4,2e-3,3e-3,4e-3,5e-3,6e-3,7e-3,8e-3,9e-3,0.02,0.03,0.04,0.05,0.06,0.07,0.08,0.09,0.2,0.3,0.4,0.5,0.6,0.7,0.8,0.9], "labels": false, "grid": false, "domain": false, "ticks": true, "tickSize": -4, "tickColor": "#222", "tickWidth": 1, "zindex": 1}},
    "y": {"field": "c", "type": "quantitative", "axis": {"orient": "left", "title": "g(x, Q²) / g(x, Q²)[ref]", "values": [0.7,0.8,0.9,1.0,1.1,1.2,1.3], "format": ".1f", "ticks": false, "domain": false, "grid": true, "labelPadding": 10, "labelFontSize": 12, "titleFontSize": 12.5, "titlePadding": 6}},
    "stroke": {"field": "s", "type": "nominal", "scale": {"range": ["#1f77b4", "#ff7f0e"]},
      "legend": {"title": null, "orient": "none", "legendX": 127.8, "legendY": 212, "symbolType": "M-1,-1.2M-1,0H7.8M-1,1.2", "symbolSize": 100, "symbolStrokeWidth": 1.5, "symbolDash": [5, 3], "labelOffset": 43, "padding": 3, "rowPadding": -3.5, "labelFontSize": 10, "labelExpr": "''", "zindex": 2}}
   }
  }
 ],
 "resolve": {"axis": {"x": "independent"}}
},
{
 "width": 386, "height": 246,
 "title": {"text": "NNPDF31sx DIS only, Q = 100 GeV", "frame": "group"},
 "transform": [{"filter": "datum.p === 'S'"}],
 "layer": [
  {
   "transform": [{"filter": "datum.s === 'NNLO'"}],
   "mark": {"type": "area", "fill": {"expr": "hatch"}, "stroke": "#9fc6e4", "strokeWidth": 1, "clip": true},
   "encoding": {
    "x": {"field": "x", "type": "quantitative", "scale": {"type": "log", "domain": [1e-6, 1], "nice": false},
          "axis": {"orient": "bottom", "title": "x", "titleFontStyle": "italic", "titleFontSize": 13, "titlePadding": 11, "values": [1e-6,1e-5,1e-4,1e-3,1e-2,1e-1,1], "labelExpr": "datum.value < 3e-6 ? '10⁻⁶' : datum.value < 3e-5 ? '10⁻⁵' : datum.value < 3e-4 ? '10⁻⁴' : datum.value < 3e-3 ? '10⁻³' : datum.value < 3e-2 ? '10⁻²' : datum.value < 0.3 ? '10⁻¹' : '10⁰'", "labelFontSize": 12, "labelPadding": 5, "labelFlush": false, "ticks": false, "domain": true, "domainColor": "#222", "domainWidth": 1.5, "grid": true}},
    "y": {"field": "lo", "type": "quantitative", "scale": {"domain": [0.7, 1.3], "nice": false, "zero": false},
          "axis": {"orient": "left", "title": "Σ(x, Q²) / Σ(x, Q²)[ref]", "values": [0.7,0.8,0.9,1.0,1.1,1.2,1.3], "format": ".1f", "ticks": false, "domain": false, "grid": true, "labelPadding": 10, "labelFontSize": 12, "titleFontSize": 12.5, "titlePadding": 6}},
    "y2": {"field": "hi"}
   }
  },
  {
   "transform": [{"filter": "datum.s === 'NNLO+NLLx'"}],
   "mark": {"type": "area", "clip": true},
   "encoding": {
    "x": {"field": "x", "type": "quantitative", "axis": {"orient": "bottom", "title": null, "values": [1e-6,1e-5,1e-4,1e-3,1e-2,1e-1,1], "labels": false, "grid": false, "domain": false, "ticks": true, "tickSize": -7, "tickColor": "#222", "tickWidth": 1.5, "zindex": 1}},
    "y": {"field": "lo", "type": "quantitative", "axis": {"orient": "left", "title": "Σ(x, Q²) / Σ(x, Q²)[ref]", "values": [0.7,0.8,0.9,1.0,1.1,1.2,1.3], "format": ".1f", "ticks": false, "domain": false, "grid": true, "labelPadding": 10, "labelFontSize": 12, "titleFontSize": 12.5, "titlePadding": 6}},
    "y2": {"field": "hi"},
    "fill": {"field": "s", "type": "nominal", "scale": {"domain": ["NNLO", "NNLO+NLLx"], "range": [{"expr": "hatchSmall"}, "#ff7f0e"]},
      "legend": {"title": null, "orient": "none", "legendX": 127.8, "legendY": 212, "symbolType": "M-1,-1.2M-1,-0.7H7.8V0.7H-1ZM-1,1.2", "symbolSize": 100, "symbolStrokeWidth": 1.5, "symbolStrokeColor": "transparent", "labelOffset": 43, "padding": 3, "rowPadding": -3.5, "fillColor": "#f4f4f4", "labelFontSize": 10, "labelColor": "#444", "zindex": 0}},
    "opacity": {"field": "s", "type": "ordinal", "scale": {"domain": ["NNLO", "NNLO+NLLx"], "range": [1, 0.5]},
      "legend": {"title": null, "orient": "none", "legendX": 127.8, "legendY": 212, "symbolType": "M-1,-1.2M-1,-0.7H7.8V0.7H-1ZM-1,1.2", "symbolSize": 100, "symbolStrokeWidth": 1.5, "symbolStrokeColor": "transparent", "labelOffset": 43, "padding": 3, "rowPadding": -3.5, "fillColor": "#f4f4f4", "labelFontSize": 10, "labelColor": "#444", "zindex": 0}}
   }
  },
  {
   "mark": {"type": "line", "strokeDash": [6, 3.5], "strokeWidth": 1.5, "clip": true},
   "encoding": {
    "x": {"field": "x", "type": "quantitative", "axis": {"orient": "bottom", "title": null, "values": [2e-6,3e-6,4e-6,5e-6,6e-6,7e-6,8e-6,9e-6,2e-5,3e-5,4e-5,5e-5,6e-5,7e-5,8e-5,9e-5,2e-4,3e-4,4e-4,5e-4,6e-4,7e-4,8e-4,9e-4,2e-3,3e-3,4e-3,5e-3,6e-3,7e-3,8e-3,9e-3,0.02,0.03,0.04,0.05,0.06,0.07,0.08,0.09,0.2,0.3,0.4,0.5,0.6,0.7,0.8,0.9], "labels": false, "grid": false, "domain": false, "ticks": true, "tickSize": -4, "tickColor": "#222", "tickWidth": 1, "zindex": 1}},
    "y": {"field": "c", "type": "quantitative", "axis": {"orient": "left", "title": "Σ(x, Q²) / Σ(x, Q²)[ref]", "values": [0.7,0.8,0.9,1.0,1.1,1.2,1.3], "format": ".1f", "ticks": false, "domain": false, "grid": true, "labelPadding": 10, "labelFontSize": 12, "titleFontSize": 12.5, "titlePadding": 6}},
    "stroke": {"field": "s", "type": "nominal", "scale": {"range": ["#1f77b4", "#ff7f0e"]},
      "legend": {"title": null, "orient": "none", "legendX": 127.8, "legendY": 212, "symbolType": "M-1,-1.2M-1,0H7.8M-1,1.2", "symbolSize": 100, "symbolStrokeWidth": 1.5, "symbolDash": [5, 3], "labelOffset": 43, "padding": 3, "rowPadding": -3.5, "labelFontSize": 10, "labelExpr": "''", "zindex": 2}}
   }
  }
 ],
 "resolve": {"axis": {"x": "independent"}}
}
],
"resolve": {"scale": {"x": "independent", "y": "independent", "fill": "independent", "stroke": "independent", "opacity": "independent"}, "legend": {"fill": "independent", "stroke": "independent", "opacity": "independent"}},
"config": {
 "view": {"stroke": null},
 "font": "DejaVu Sans",
 "axis": {"labelColor": "#444", "titleColor": "#444", "gridColor": "#cbcbcb", "gridWidth": 1, "titleFontWeight": "normal", "labelFont": "DejaVu Sans", "titleFont": "DejaVu Sans"},
 "title": {"fontSize": 14.6, "fontWeight": "normal", "color": "#333", "offset": 3.3, "font": "DejaVu Sans"},
 "legend": {"labelFont": "DejaVu Sans", "labelFontSize": 10, "labelColor": "#444"}
}
}
